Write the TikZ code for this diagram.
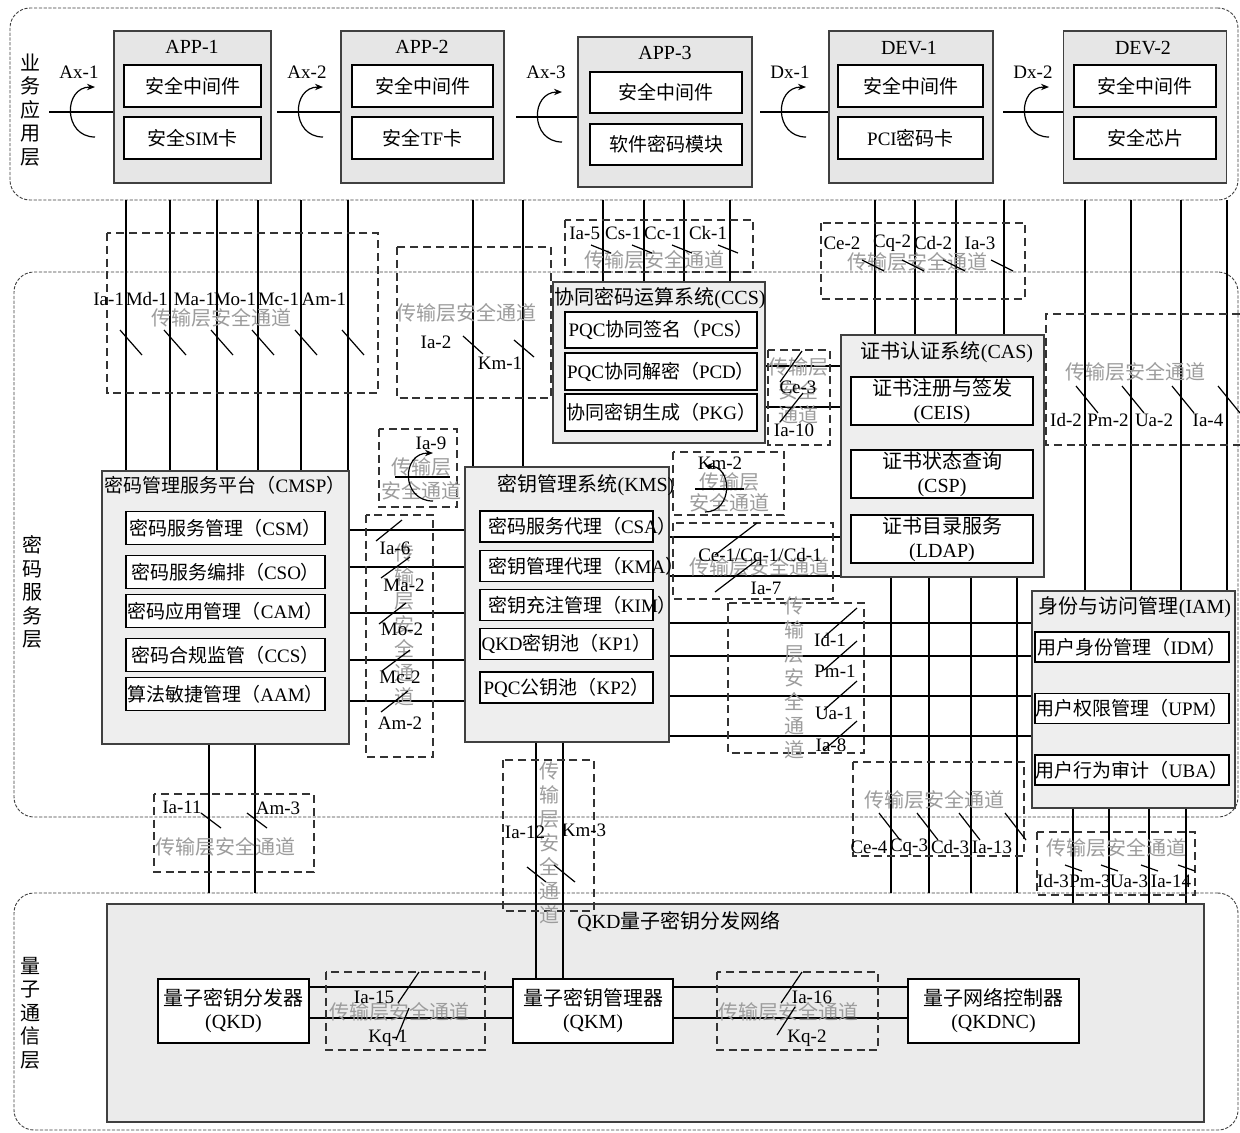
\documentclass[tikz,border=0pt]{standalone}
\usepackage{fontspec}
\setmainfont{Liberation Serif}
\newfontfamily\cjkfont{Noto Sans CJK SC}
\newfontfamily\latinfont{Liberation Serif}
\usetikzlibrary{arrows.meta}
\definecolor{DevGray}{HTML}{E6E6E6}
\definecolor{SysGray}{HTML}{EEEEEE}
\definecolor{NetGray}{HTML}{EBEBEB}
\definecolor{ChanText}{HTML}{9C9C9C}
% Chinese characters in the CJK font, the rest in the serif
\XeTeXinterchartokenstate=1
\newXeTeXintercharclass\CJKclass
\count255="3000
\loop\ifnum\count255<"A000
  \XeTeXcharclass\count255=\CJKclass
  \advance\count255 by 1
\repeat
\count255="FF00
\loop\ifnum\count255<"FFF0
  \XeTeXcharclass\count255=\CJKclass
  \advance\count255 by 1
\repeat
\XeTeXinterchartoks 0 \CJKclass={\cjkfont}
\XeTeXinterchartoks 4095 \CJKclass={\cjkfont}
\XeTeXinterchartoks \CJKclass 0={\latinfont}
\XeTeXinterchartoks \CJKclass 4095={\latinfont}

\begin{document}
\begin{tikzpicture}[x=0.5pt,y=-0.5pt,
    every node/.style={font=\fontsize{9.5}{11}\selectfont},
    lyr/.style={draw=black!75,line width=0.45pt,dash pattern=on 1.6pt off 0.8pt,rounded corners=10pt,inner sep=0pt},
    lyrtext/.style={align=center,inner sep=0pt,font=\fontsize{10}{11.75}\selectfont},
    sysbox/.style={draw=black!75,fill=SysGray,line width=0.8pt,inner sep=0pt},
    devbox/.style={sysbox,fill=DevGray,minimum height=76pt},
    subbox/.style={draw=black,fill=white,line width=0.7pt,inner sep=0pt,align=center},
    devsub/.style={subbox,minimum height=21pt},
    casub/.style={subbox,minimum width=91pt,minimum height=24pt,font=\fontsize{10}{12}\selectfont},
    kmsovf/.style={subbox,minimum height=15.5pt,text width=78.5pt,align=left,inner xsep=4pt},
    qsub/.style={subbox,minimum height=32pt,font=\fontsize{10}{11.5}\selectfont},
    ttl/.style={inner sep=0pt,font=\fontsize{10}{12}\selectfont},
    chanbox/.style={draw=black!80,line width=0.7pt,dash pattern=on 4pt off 2.4pt},
    chantxt/.style={text=ChanText,inner sep=0pt,align=center,font=\fontsize{10}{12}\selectfont},
    wire/.style={draw=black,line width=0.6pt},
    crossmark/.style={draw=black,line width=0.6pt},
    ifarc/.style={draw=black,line width=0.6pt,-{Stealth[length=4pt,width=3.2pt]}},
    lbl/.style={inner sep=0.3pt}]
\fill[white,use as bounding box] (0,0) rectangle (1240,1132);

% layers
\node[lyr,minimum width=614pt,minimum height=96pt] (layA) at (624,104) {};
\node[lyr,minimum width=612pt,minimum height=272.5pt] (layB) at (626,544.5) {};
\node[lyr,minimum width=612pt,minimum height=118.5pt] (layC) at (626,1011.5) {};
\node[lyrtext] (labA) at (30,110) {业\\务\\应\\用\\层};
\node[lyrtext] (labB) at (32,592) {密\\码\\服\\务\\层};
\node[lyrtext] (labC) at (30,1013) {量\\子\\通\\信\\层};

% business application layer
\node[devbox,minimum width=78.5pt] (app1) at (192.5,107) {};
\node[ttl] (app1t) at (192,47) {APP-1};
\node[devsub,minimum width=68.5pt] (app1a) at (192.5,86) {安全中间件};
\node[devsub,minimum width=68.5pt] (app1b) at (192.5,138) {安全SIM卡};

\node[devbox,minimum width=81.5pt] (app2) at (422.5,107) {};
\node[ttl] (app2t) at (422,47) {APP-2};
\node[devsub,minimum width=70.5pt] (app2a) at (422.5,86) {安全中间件};
\node[devsub,minimum width=70.5pt] (app2b) at (422.5,138) {安全TF卡};

\node[devbox,minimum width=87pt,minimum height=75pt] (app3) at (665,112) {};
\node[ttl] (app3t) at (665,53) {APP-3};
\node[devsub,minimum width=76pt,minimum height=20.5pt] (app3a) at (666,92.5) {安全中间件};
\node[devsub,minimum width=76pt,minimum height=20.5pt] (app3b) at (666,144.5) {软件密码模块};

\node[devbox,minimum width=82pt] (dev1) at (911,107) {};
\node[ttl] (dev1t) at (909,48) {DEV-1};
\node[devsub,minimum width=72.5pt] (dev1a) at (910.5,86) {安全中间件};
\node[devsub,minimum width=72.5pt] (dev1b) at (910.5,138) {PCI密码卡};

\node[devbox,minimum width=81.5pt] (dev2) at (1145,107) {};
\node[ttl] (dev2t) at (1143,48) {DEV-2};
\node[devsub,minimum width=71pt] (dev2a) at (1145,86) {安全中间件};
\node[devsub,minimum width=71pt] (dev2b) at (1145,138) {安全芯片};

\foreach \nm/\sx/\sy/\tgt/\txt in {ax1/49/112/app1/Ax-1,ax2/277/112/app2/Ax-2,
    ax3/516/117/app3/Ax-3,dx1/760/112/dev1/Dx-1,dx2/1003/112/dev2/Dx-2}{
  \coordinate (\nm) at (\sx,\sy);
  \draw[wire] (\nm) -- (\nm -| \tgt.west);
  \draw[ifarc] (\sx+46,\sy+25) .. controls (\sx+14,\sy+25) and (\sx+14,\sy-25) .. (\sx+46,\sy-25);
  \node[lbl] (\nm l) at (\sx+30,72) {\txt};
}

% crypto service layer
\node[sysbox,minimum width=106pt,minimum height=80.5pt] (ccs) at (659,362.5) {};
\node[ttl] (ccst) at (660,298) {协同密码运算系统(CCS)};
\node[subbox,minimum width=96pt,minimum height=18pt] (pcs) at (661,330) {PQC协同签名（PCS）};
\node[subbox,minimum width=96pt,minimum height=18.5pt] (pcd) at (661,371.5) {PQC协同解密（PCD）};
\node[subbox,minimum width=96pt,minimum height=18.5pt] (pkg) at (661,412.5) {协同密钥生成（PKG）};

\node[sysbox,minimum width=101.5pt,minimum height=121pt] (cas) at (942.5,456) {};
\node[ttl] (cast) at (947,352) {证书认证系统(CAS)};
\node[casub] (ceis) at (942,401) {证书注册与签发\\(CEIS)};
\node[casub] (csp) at (942,474) {证书状态查询\\(CSP)};
\node[casub] (ldap) at (942,539) {证书目录服务\\(LDAP)};

\node[sysbox,minimum width=123.5pt,minimum height=136.5pt] (cmsp) at (225.5,607.5) {};
\node[ttl,font=\fontsize{9.5}{11}\selectfont] (cmspt) at (225,485) {密码管理服务平台（CMSP）};
\foreach \nm/\yy/\txt in {csm/528/密码服务管理（CSM）,cso/572/密码服务编排（CSO）,
    cam/611/密码应用管理（CAM）,comp/655/密码合规监管（CCS）,aam/694/算法敏捷管理（AAM）}
  \node[subbox,minimum width=99.5pt,minimum height=16.5pt] (\nm) at (225.5,\yy) {\txt};

\node[sysbox,minimum width=102pt,minimum height=137.5pt] (kms) at (567,604.5) {};
\node[ttl] (kmst) at (586,485) {密钥管理系统(KMS)};
\node[kmsovf] (csa) at (566.5,526.5) {密码服务代理（CSA）};
\node[kmsovf] (kma) at (566.5,566) {密钥管理代理（KMA）};
\node[kmsovf] (kim) at (566.5,605) {密钥充注管理（KIM）};
\node[subbox,minimum width=86.5pt,minimum height=15.5pt] (kp1) at (566.5,644) {QKD密钥池（KP1）};
\node[subbox,minimum width=86.5pt,minimum height=15.5pt] (kp2) at (566.5,687.5) {PQC公钥池（KP2）};

\node[sysbox,minimum width=101.5pt,minimum height=108.5pt] (iam) at (1133.5,699.5) {};
\node[ttl] (iamt) at (1135,607) {身份与访问管理(IAM)};
\node[subbox,minimum width=97pt,minimum height=15pt] (idm) at (1132,647) {用户身份管理（IDM）};
\node[subbox,minimum width=97pt,minimum height=15pt] (upm) at (1132,708.5) {用户权限管理（UPM）};
\node[subbox,minimum width=97pt,minimum height=15pt] (uba) at (1132,770) {用户行为审计（UBA）};

% quantum communication layer
\node[sysbox,fill=NetGray,minimum width=548.5pt,minimum height=109pt] (qkdnet) at (655.5,1013) {};
\node[ttl] (qkdnett) at (679,922) {QKD量子密钥分发网络};
\node[qsub,minimum width=75.5pt] (qkd) at (233.5,1011) {量子密钥分发器\\(QKD)};
\node[qsub,minimum width=80pt] (qkm) at (593,1011) {量子密钥管理器\\(QKM)};
\node[qsub,minimum width=85.5pt] (qkdnc) at (993.5,1011) {量子网络控制器\\(QKDNC)};

% interfaces
\foreach \x in {126,170,217,258,301,348} \draw[wire] (\x,0 |- layA.south) -- (\x,0 |- cmsp.north);
\foreach \x in {473,523} \draw[wire] (\x,0 |- layA.south) -- (\x,0 |- kms.north);
\foreach \x in {603,644,684,730} \draw[wire] (\x,0 |- layA.south) -- (\x,0 |- ccs.north);
\foreach \x in {875,915,956,1004} \draw[wire] (\x,0 |- layA.south) -- (\x,0 |- cas.north);
\foreach \x in {1085,1131,1181,1227} \draw[wire] (\x,0 |- layA.south) -- (\x,0 |- iam.north);
\foreach \y in {366,407} \draw[wire] (ccs.east |- 0,\y) -- (cas.west |- 0,\y);
\foreach \y in {530,567,613,660,701} \draw[wire] (cmsp.east |- 0,\y) -- (kms.west |- 0,\y);
\foreach \y in {537,576} \draw[wire] (kms.east |- 0,\y) -- (cas.west |- 0,\y);
\foreach \y in {623,656,696,736} \draw[wire] (kms.east |- 0,\y) -- (iam.west |- 0,\y);
\foreach \x in {209,255} \draw[wire] (\x,0 |- cmsp.south) -- (\x,0 |- layC.north);
\foreach \x in {536,563} \draw[wire] (\x,0 |- kms.south) -- (\x,0 |- qkm.north);
\foreach \x in {891,929,971,1017} \draw[wire] (\x,0 |- cas.south) -- (\x,0 |- layC.north);
\foreach \x in {1073,1109,1149,1186} \draw[wire] (\x,0 |- iam.south) -- (\x,0 |- qkdnet.north);
\foreach \y in {987,1018}{
  \draw[wire] (qkd.east |- 0,\y) -- (qkm.west |- 0,\y);
  \draw[wire] (qkm.east |- 0,\y) -- (qkdnc.west |- 0,\y);
}

% transport layer secure channels
\draw[chanbox] (107,233) rectangle (378,393);
\node[chantxt] (chA) at (221,318) {传输层安全通道};
\foreach \x/\t [count=\i] in {126/Ia-1,170/Md-1,217/Ma-1,258/Mo-1,301/Mc-1,348/Am-1}{
  \node[lbl,anchor=east] (a\i) at (\x-1,299) {\t};
  \draw[crossmark] (\x-6,330) -- (\x+16,355);
}

\draw[chanbox] (397,247) rectangle (551,398);
\node[chantxt] (chB) at (466,313) {传输层安全通道};
\node[lbl] (ia2) at (436,342) {Ia-2};
\node[lbl] (km1) at (500,363) {Km-1};
\draw[crossmark] (463,336) -- (483,354);
\draw[crossmark] (514,340) -- (534,357);

\draw[chanbox] (565,220) rectangle (753,272);
\node[chantxt] (chC) at (654,260) {传输层安全通道};
\foreach \x/\t [count=\i] in {603/Ia-5,644/Cs-1,684/Cc-1,730/Ck-1}{
  \node[lbl,anchor=east] (c\i) at (\x-2,233) {\t};
  \draw[crossmark] (\x-12,245) -- (\x+8,253);
}

\draw[chanbox] (821,223) rectangle (1025,299);
\node[chantxt] (chD) at (917,262) {传输层安全通道};
\foreach \x/\lx/\t [count=\i] in {875/842/Ce-2,915/892/Cq-2,956/933/Cd-2,1004/980/Ia-3}{
  \node[lbl] (d\i) at (\lx,243) {\t};
  \draw[crossmark] (\x-13,260) -- (\x+9,271);
}

\draw[chanbox] (1240,314) -- (1046,314) -- (1046,445) -- (1240,445);
\node[chantxt] (chE) at (1135,372) {传输层安全通道};
\foreach \x/\lx/\t [count=\i] in {1085/1066/Id-2,1131/1108/Pm-2,1181/1154/Ua-2,1227/1208/Ia-4}{
  \node[lbl] (e\i) at (\lx,420) {\t};
  \draw[crossmark] (\x-9,386) -- (\x+13,413);
}

\draw[chanbox] (768,350) rectangle (830,445);
\node[chantxt] (chF) at (798,391) {传输层\\安全\\通道};
\node[lbl] (ce3) at (798,387) {Ce-3};
\node[lbl] (ia10) at (794,430) {Ia-10};
\draw[crossmark] (802,351) -- (780,382);
\draw[crossmark] (803,393) -- (780,422);

\draw[chanbox] (366,515) rectangle (433,757);
\node[chantxt] (chG) at (404,625) {传\\输\\层\\安\\全\\通\\道};
\foreach \lx/\ly/\t [count=\i] in {395/548/Ia-6,404/585/Ma-2,402/629/Mo-2,400/677/Mc-2,400/723/Am-2}
  \node[lbl] (g\i) at (\lx,\ly) {\t};
\foreach \ax/\ay/\bx/\by in {402/520/376/541,410/557/381/578,406/603/379/624,410/650/382/671,408/691/381/712}
  \draw[crossmark] (\ax,\ay) -- (\bx,\by);

\draw[chanbox] (379,429) rectangle (457,507);
\node[chantxt] (chH) at (421,479) {传输层\\安全通道};
\coordinate (ia9a) at (395,477);
\coordinate (ia9b) at (450,477);
\draw[wire] (ia9a) -- (ia9b);
\draw[ifarc] (433,501) .. controls (401,501) and (401,453) .. (433,453);
\node[lbl] (ia9) at (431,443) {Ia-9};

\draw[chanbox] (673,452) rectangle (784,515);
\node[chantxt,font=\fontsize{10}{10.5}\selectfont] (chKm) at (729,492) {传输层\\安全通道};
\coordinate (km2a) at (695,489);
\coordinate (km2b) at (744,489);
\draw[wire] (km2a) -- (km2b);
\draw[ifarc] (705,512) .. controls (733,512) and (733,466) .. (705,466);
\node[lbl] (km2) at (720,463) {Km-2};

\draw[chanbox] (673,523) rectangle (833,599);
\node[chantxt] (chI) at (759,567) {传输层安全通道};
\node[lbl] (ce1) at (760,557) {Ce-1/Cq-1/Cd-1};
\node[lbl] (ia7) at (766,588) {Ia-7};
\draw[crossmark] (757,523) -- (715,555);
\draw[crossmark] (757,560) -- (715,592);

\draw[chanbox] (728,603) rectangle (864,753);
\node[chantxt] (chJ) at (794,678) {传\\输\\层\\安\\全\\通\\道};
\foreach \lx/\ly/\t [count=\i] in {830/640/Id-1,835/671/Pm-1,834/713/Ua-1,831/745/Ia-8}
  \node[lbl] (j\i) at (\lx,\ly) {\t};
\foreach \y in {623,656,696,736} \draw[crossmark] (857,\y-15) -- (824,\y+14);

\draw[chanbox] (853,762) rectangle (1024,856);
\node[chantxt] (chK) at (934,800) {传输层安全通道};
\foreach \x/\lx/\t [count=\i] in {891/869/Ce-4,929/909/Cq-3,971/950/Cd-3,1017/992/Ia-13}{
  \node[lbl] (k\i) at (\lx,847) {\t};
  \draw[crossmark] (\x-12,813) -- (\x+9,840);
}

\draw[chanbox] (1037,832) rectangle (1195,895);
\node[chantxt] (chL) at (1116,848) {传输层安全通道};
\foreach \x/\lx/\t [count=\i] in {1073/1053/Id-3,1109/1090/Pm-3,1149/1129/Ua-3,1186/1171/Ia-14}{
  \node[lbl] (l\i) at (\lx,881) {\t};
  \draw[crossmark] (\x-8,865) -- (\x+9,871);
}

\draw[chanbox] (154,794) rectangle (314,872);
\node[chantxt] (chM) at (225,847) {传输层安全通道};
\node[lbl] (ia11) at (182,807) {Ia-11};
\node[lbl] (am3) at (278,808) {Am-3};
\foreach \x in {209,255} \draw[crossmark] (\x-8,813) -- (\x+12,828);

\draw[chanbox] (503,760) rectangle (594,911);
\node[chantxt] (chN) at (549,843) {传\\输\\层\\安\\全\\通\\道};
\node[lbl] (ia12) at (525,832) {Ia-12};
\node[lbl] (km3) at (584,830) {Km-3};
\draw[crossmark] (527,867) -- (546,882);
\draw[crossmark] (554,865) -- (575,882);

\draw[chanbox] (326,972) rectangle (485,1050);
\node[chantxt] (chO) at (399,1012) {传输层安全通道};
\node[lbl] (ia15) at (374,997) {Ia-15};
\node[lbl] (kq1) at (388,1038) {Kq-1};
\draw[crossmark] (419,972) -- (398,1003);
\draw[crossmark] (409,1008) -- (396,1040);

\draw[chanbox] (717,972) rectangle (878,1050);
\node[chantxt] (chP) at (788,1012) {传输层安全通道};
\node[lbl] (ia16) at (812,997) {Ia-16};
\node[lbl] (kq2) at (807,1038) {Kq-2};
\draw[crossmark] (802,972) -- (781,1003);
\draw[crossmark] (795,1007) -- (777,1035);
\end{tikzpicture}
\end{document}
